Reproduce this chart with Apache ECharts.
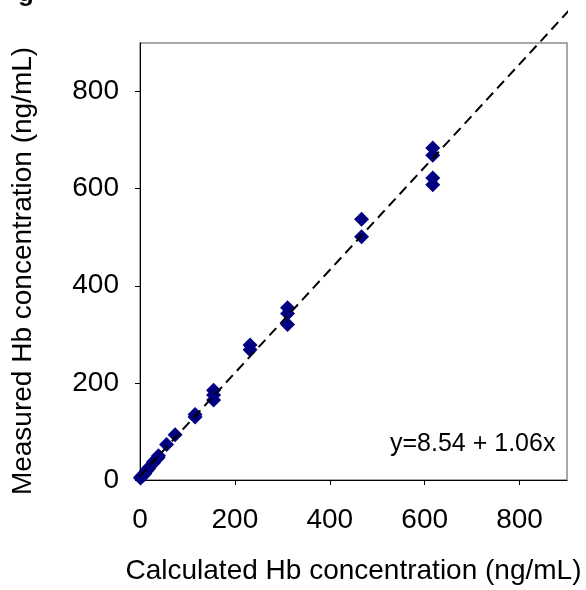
<!DOCTYPE html>
<html>
<head>
<meta charset="utf-8">
<script src="https://cdn.jsdelivr.net/npm/echarts@6/dist/echarts.min.js"></script>
<style>
  html, body { margin: 0; padding: 0; background: #fff; }
  #chart { width: 586px; height: 590px; }
</style>
</head>
<body>
<div id="chart"></div>
<script>
// Calculated vs measured haemoglobin (ng/mL)
const calculated = [
  617, 617, 617, 617,
  467, 467,
  311, 311, 311,
  232, 232,
  155, 155, 155,
  116, 116,
  74, 56,
  39, 38, 29, 28, 19, 18, 14, 10, 9, 5, 2, 1
];
const measured = [
  684, 669, 622, 608,
  537, 501,
  355, 343, 320,
  278, 268,
  185, 175, 165,
  135, 130,
  93, 73,
  50, 46, 38, 35, 26, 23, 19, 14, 12, 9, 6, 4
];
const axisTicks = [0, 200, 400, 600, 800];
const fitIntercept = 8.54;
const fitSlope = 1.06;
const fitRange = [-70, 925];

const points = calculated.map((x, i) => [x, measured[i]]);
const fitLine = fitRange.map(x => [x, fitIntercept + fitSlope * x]);

const FONT = 'Liberation Sans, Arial, sans-serif';
const chart = echarts.init(document.getElementById('chart'), null, { renderer: 'canvas' });

chart.setOption({
  animation: false,
  backgroundColor: '#ffffff',
  grid: {
    left: 140, top: 43, right: 19, bottom: 105,
    show: true, borderColor: '#8c8c8c', borderWidth: 1.5, backgroundColor: 'transparent'
  },
  xAxis: {
    type: 'value', min: 0, max: 900, interval: 200,
    name: 'Calculated Hb concentration (ng/mL)',
    nameLocation: 'middle', nameGap: 77,
    nameTextStyle: { fontFamily: FONT, fontSize: 28, color: '#000' },
    axisLine: { show: true, onZero: false, lineStyle: { color: '#000', width: 1 } },
    axisTick: { show: true, inside: false, length: 5, customValues: axisTicks, lineStyle: { color: '#000' } },
    axisLabel: { fontFamily: FONT, fontSize: 28, color: '#000', margin: 26, customValues: axisTicks },
    splitLine: { show: false }
  },
  yAxis: {
    type: 'value', min: 0, max: 900, interval: 200,
    axisLine: { show: true, onZero: false, lineStyle: { color: '#000', width: 1 } },
    axisTick: { show: true, inside: false, length: 5, customValues: axisTicks, lineStyle: { color: '#000' } },
    axisLabel: { fontFamily: FONT, fontSize: 28, color: '#000', margin: 21, customValues: axisTicks },
    splitLine: { show: false }
  },
  series: [
    {
      type: 'scatter',
      data: points,
      symbol: 'diamond',
      symbolSize: 15,
      itemStyle: { color: '#000080', opacity: 1 },
      z: 2
    },
    {
      type: 'line',
      data: fitLine,
      clip: false,
      showSymbol: false,
      symbol: 'none',
      lineStyle: { color: '#000', width: 2, type: [10, 6] },
      z: 3
    }
  ],
  graphic: [
    {
      // vertical axis title
      type: 'text', x: 23, y: 271, rotation: Math.PI / 2,
      style: {
        text: 'Measured Hb concentration (ng/mL)', font: '28px ' + FONT, fill: '#000',
        align: 'center', verticalAlign: 'middle'
      }
    },
    {
      type: 'text', left: 390, top: 432,
      style: { text: 'y=8.54 + 1.06x', font: '25px ' + FONT, fill: '#000' }
    },
    {
      type: 'text', x: 18, y: -19,
      style: { text: 'g', font: 'bold 26px ' + FONT, fill: '#000' }
    }
  ]
});
</script>
</body>
</html>
